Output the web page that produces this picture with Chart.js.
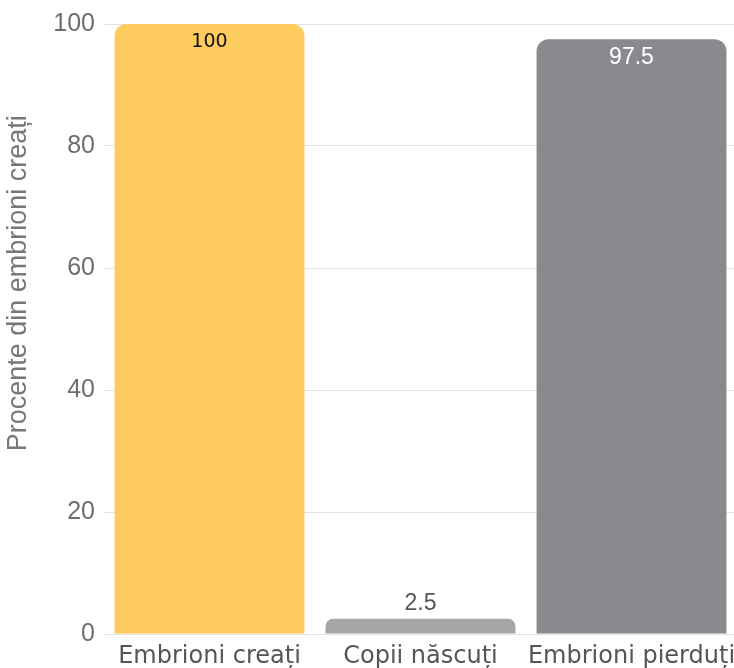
<!DOCTYPE html>
<html>
<head>
<meta charset="utf-8">
<script src="https://cdn.jsdelivr.net/npm/chart.js@4/dist/chart.umd.min.js"></script>
<style>
  html, body { margin: 0; padding: 0; background: #fff; overflow: hidden; }
  #wrap { width: 740px; height: 668px; }
</style>
</head>
<body>
<div id="wrap"><canvas id="chart" width="740" height="668"></canvas></div>
<script>
// Data
const categories = ["Embrioni creați", "Copii născuți", "Embrioni pierduți"];
const percentValues = [100, 2.5, 97.5];
const barColors = ["#fdcb5e", "#a6a6a6", "#898a8e"];
const labelColors = ["#111111", "#555555", "#ffffff"];
const labelFonts = ["19px 'DejaVu Sans'", "23px 'Liberation Sans'", "23px 'Liberation Sans'"];
const yTitle = "Procente din embrioni creați";

const sansFont = "'Liberation Sans', Arial, sans-serif";
const wideFont = "'DejaVu Sans', sans-serif";

// value labels: inside the bar top when tall, above it when short
const valueLabels = {
  id: "valueLabels",
  afterDatasetsDraw(chart) {
    const ctx = chart.ctx;
    const meta = chart.getDatasetMeta(0);
    ctx.save();
    ctx.textAlign = "center";
    ctx.textBaseline = "middle";
    meta.data.forEach((bar, i) => {
      const tall = percentValues[i] > 10;
      ctx.font = labelFonts[i];
      ctx.fillStyle = labelColors[i];
      ctx.fillText(String(percentValues[i]), bar.x, tall ? bar.y + 18 : bar.y - 15);
    });
    ctx.restore();
  },
};

// axis title, sits a bit above the middle of the plot like in the original
const yAxisTitle = {
  id: "yAxisTitle",
  afterDraw(chart) {
    const ctx = chart.ctx;
    const area = chart.chartArea;
    ctx.save();
    ctx.translate(19, area.top + (area.bottom - area.top) * 0.425);
    ctx.rotate(-Math.PI / 2);
    ctx.font = "27px " + sansFont;
    ctx.fillStyle = "#777777";
    ctx.textAlign = "center";
    ctx.textBaseline = "middle";
    ctx.fillText(yTitle, 0, 0);
    ctx.restore();
  },
};

new Chart(document.getElementById("chart"), {
  type: "bar",
  data: {
    labels: categories,
    datasets: [
      {
        data: percentValues,
        backgroundColor: barColors,
        borderRadius: { topLeft: 12, topRight: 12 },
        borderSkipped: "bottom",
        barPercentage: 0.9,
        categoryPercentage: 1,
      },
    ],
  },
  options: {
    responsive: false,
    animation: false,
    layout: { padding: { top: 12, right: 3, bottom: 0, left: 0 } },
    plugins: {
      legend: { display: false },
      tooltip: { enabled: false },
    },
    scales: {
      x: {
        grid: { display: false },
        border: { display: false },
        ticks: {
          color: "#555555",
          font: { family: wideFont, size: 24 },
          padding: 0,
          maxRotation: 0,
        },
        afterFit(scale) {
          scale.height = 34;
        },
      },
      y: {
        min: 0,
        max: 100,
        grid: { color: "#e2e2e2", drawTicks: false },
        border: { display: false },
        ticks: {
          stepSize: 20,
          color: "#6e6e6e",
          font: { family: sansFont, size: 25 },
          padding: 9,
        },
        afterFit(scale) {
          scale.width = 104;
        },
      },
    },
  },
  plugins: [valueLabels, yAxisTitle],
});
</script>
</body>
</html>
